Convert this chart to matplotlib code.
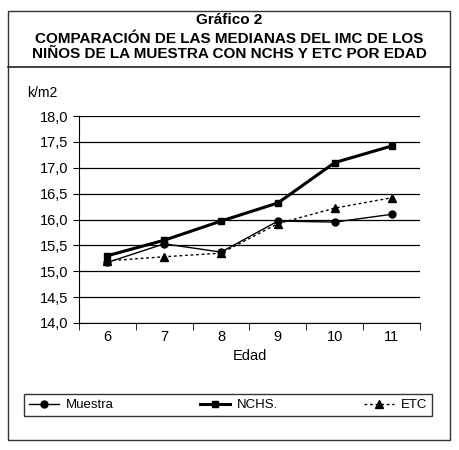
import matplotlib.pyplot as plt
from matplotlib.patches import Rectangle
from matplotlib.lines import Line2D

edades = ['6', '7', '8', '9', '10', '11']
muestra = [15.17, 15.53, 15.37, 15.97, 15.95, 16.10]
nchs = [15.30, 15.60, 15.97, 16.32, 17.10, 17.42]
etc = [15.20, 15.28, 15.35, 15.92, 16.22, 16.42]
yticks = [14.0, 14.5, 15.0, 15.5, 16.0, 16.5, 17.0, 17.5, 18.0]

plt.rcParams['font.family'] = ['Liberation Sans', 'DejaVu Sans']

fig = plt.figure(figsize=(4.59, 4.5), dpi=100)
W, H = 459, 450

def fx(px):
    return px / W

def fy(py):
    return 1 - py / H

# marco exterior y caja del titulo
fig.patches.append(Rectangle((fx(8), fy(440)), fx(442), 429.5 / H, transform=fig.transFigure,
                             fill=False, lw=1.0, ec='#333333'))
fig.lines.append(Line2D([fx(8), fx(450)], [fy(67), fy(67)], transform=fig.transFigure,
                        color='#222222', lw=1.2))

fig.text(0.5, fy(20), 'Gráfico 2', ha='center', va='center', fontsize=11, fontweight='bold')
fig.text(0.5, fy(46.5), 'COMPARACIÓN DE LAS MEDIANAS DEL IMC DE LOS\nNIÑOS DE LA MUESTRA CON NCHS Y ETC POR EDAD',
         ha='center', va='center', fontsize=11, fontweight='bold', linespacing=1.15)
fig.text(fx(27), fy(93), 'k/m2', ha='left', va='center', fontsize=10)

ax = fig.add_axes([fx(79), fy(323), fx(420 - 79), (323 - 116) / H])
x = list(range(len(edades)))
ax.plot(x, muestra, color='black', lw=1.0, marker='o', ms=5, label='Muestra')
ax.plot(x, nchs, color='black', lw=2.2, marker='s', ms=5, label='NCHS.')
ax.plot(x, etc, color='black', lw=1.0, ls=(0, (2, 2)), marker='^', ms=6, label='ETC')

ax.set_xlim(-0.45, 5.45)
ax.set_ylim(14.0, 18.0)
ax.set_yticks(yticks)
ax.set_yticklabels([f'{v:.1f}'.replace('.', ',') for v in yticks], fontsize=10.5)
ax.set_xticks(x)
ax.set_xticklabels(edades, fontsize=10.5)
ax.set_xticks([i - 0.5 for i in range(len(edades) + 1)], minor=True)
ax.tick_params(axis='x', which='major', length=0, pad=5)
ax.tick_params(axis='x', which='minor', length=5, direction='out')
ax.tick_params(axis='y', length=4, direction='out')
ax.grid(axis='y', color='black', lw=0.9)
for s in ['top', 'right']:
    ax.spines[s].set_visible(False)
ax.set_xlabel('Edad', fontsize=10.5, labelpad=4)
ax.set_axisbelow(True)

handles, labels = ax.get_legend_handles_labels()
leg = fig.legend(handles, labels, loc='center', bbox_to_anchor=(fx(228), fy(405)), ncol=3,
                 frameon=True, fancybox=False, edgecolor='black', fontsize=9.5,
                 handlelength=2.3, columnspacing=6.5, borderpad=0.4, handletextpad=0.5)
leg.get_frame().set_linewidth(1.0)

fig.savefig('out.png', dpi=100)
